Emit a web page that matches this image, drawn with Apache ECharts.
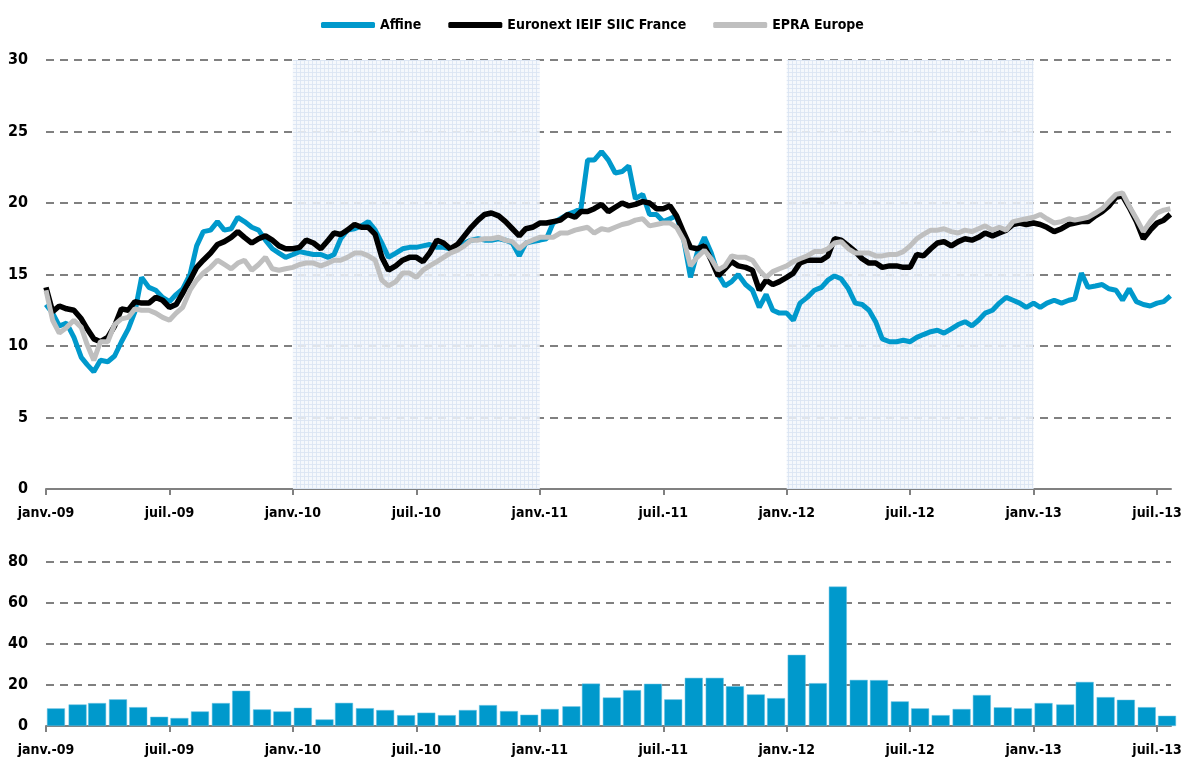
<!DOCTYPE html>
<html>
<head>
<meta charset="utf-8">
<script src="https://cdn.jsdelivr.net/npm/echarts@6/dist/echarts.min.js"></script>
<style>
html,body{margin:0;padding:0;background:#fff;}
#chart{width:1182px;height:762px;}
</style>
</head>
<body>
<div id="chart"></div>
<script>
// ---------- DATA ----------
const seriesNames = ['Affine', 'Euronext IEIF SIIC France', 'EPRA Europe'];
const tickLabels = ['janv.-09','juil.-09','janv.-10','juil.-10','janv.-11','juil.-11','janv.-12','juil.-12','janv.-13','juil.-13'];
// sample days within each month (1st, 11th, 21st), Jan 2009 .. Jul 2013
const sampleDays = [1, 11, 21];
const startYear = 2009, monthCount = 55;

const affine = [
 12.9,12.3,11.4, 11.6,10.6,9.2, 8.7,8.2,9.0, 8.9,9.3,10.3, 11.2,12.4,14.8, 14.1,13.9,13.4,
 13.1,13.6,14.0, 15.0,17.0,18.0, 18.1,18.7,18.1, 18.2,19.0,18.7, 18.3,18.1,17.4, 16.8,16.5,16.2,
 16.4,16.6,16.5, 16.4,16.4,16.2, 16.4,17.5,18.1, 18.2,18.4,18.7, 18.1,17.2,16.2, 16.5,16.8,16.9,
 16.9,17.0,17.1, 16.9,16.9,16.8, 16.9,17.2,17.4, 17.5,17.4,17.4, 17.5,17.4,17.2, 16.3,17.2,17.3,
 17.4,17.5,18.6, 18.9,19.2,19.4, 19.6,23.0,23.0, 23.6,23.0,22.1, 22.2,22.6,20.3, 20.6,19.2,19.2,
 18.7,18.9,19.1, 17.4,14.8,16.5, 17.6,16.5,15.0, 14.2,14.5,15.0, 14.3,13.9,12.7, 13.6,12.5,12.3,
 12.3,11.8,13.0, 13.4,13.9,14.1, 14.6,14.9,14.7, 14.0,13.0,12.9, 12.5,11.7,10.5, 10.3,10.3,10.4,
 10.3,10.6,10.8, 11.0,11.1,10.9, 11.2,11.5,11.7, 11.4,11.8,12.3, 12.5,13.0,13.4, 13.2,13.0,12.7,
 13.0,12.7,13.0, 13.2,13.0,13.2, 13.3,15.1,14.1, 14.2,14.3,14.0, 13.9,13.2,14.0, 13.1,12.9,12.8,
 13.0,13.1,13.5
];
const euronext = [
 14.1,12.4,12.8, 12.6,12.5,11.9, 11.2,10.5,10.3, 10.6,11.4,12.6, 12.5,13.1,13.0, 13.0,13.4,13.2,
 12.7,12.9,13.7, 14.6,15.5,16.0, 16.5,17.1,17.3, 17.6,18.0,17.6, 17.2,17.5,17.7, 17.4,17.0,16.8,
 16.8,16.9,17.4, 17.2,16.8,17.4, 17.9,17.8,18.1, 18.5,18.3,18.3, 17.8,16.2,15.3, 15.6,16.0,16.2,
 16.2,15.9,16.5, 17.4,17.2,16.8, 17.1,17.7,18.3, 18.8,19.2,19.3, 19.1,18.7,18.2, 17.7,18.2,18.3,
 18.6,18.6,18.7, 18.8,19.2,19.0, 19.4,19.4,19.6, 19.9,19.4,19.7, 20.0,19.8,19.9, 20.1,20.0,19.6,
 19.6,19.8,19.1, 17.9,16.9,16.8, 17.0,16.0,14.9, 15.4,15.9,15.6, 15.5,15.3,13.9, 14.6,14.3,14.5,
 14.8,15.1,15.8, 16.0,16.0,16.0, 16.3,17.5,17.4, 17.0,16.6,16.1, 15.8,15.8,15.5, 15.6,15.6,15.5,
 15.5,16.4,16.3, 16.8,17.2,17.3, 17.0,17.3,17.5, 17.4,17.6,17.9, 17.7,17.9,18.1, 18.5,18.6,18.5,
 18.6,18.5,18.3, 18.0,18.2,18.5, 18.6,18.7,18.7, 19.1,19.4,19.8, 20.4,20.5,19.7, 18.7,17.5,18.1,
 18.6,18.8,19.2
];
const epra = [
 13.9,11.8,10.9, 11.3,11.8,11.3, 10.1,9.0,10.3, 10.3,11.5,11.9, 12.0,12.6,12.5, 12.5,12.3,12.0,
 11.8,12.3,12.7, 13.9,14.6,15.1, 15.5,16.0,15.7, 15.4,15.8,16.0, 15.3,15.7,16.2, 15.4,15.3,15.4,
 15.5,15.7,15.8, 15.8,15.6,15.8, 16.0,16.0,16.2, 16.5,16.5,16.3, 16.0,14.6,14.2, 14.5,15.1,15.1,
 14.8,15.3,15.6, 15.9,16.2,16.5, 16.7,17.0,17.4, 17.4,17.5,17.5, 17.6,17.4,17.3, 16.8,17.2,17.4,
 17.6,17.6,17.6, 17.9,17.9,18.1, 18.2,18.3,17.9, 18.2,18.1,18.3, 18.5,18.6,18.8, 18.9,18.4,18.5,
 18.6,18.6,18.3, 17.4,15.6,16.2, 16.7,16.1,15.3, 15.6,16.3,16.2, 16.2,16.0,15.3, 14.8,15.2,15.4,
 15.6,15.9,16.1, 16.3,16.6,16.6, 16.8,17.2,17.3, 16.8,16.5,16.5, 16.5,16.3,16.3, 16.4,16.4,16.6,
 17.0,17.5,17.8, 18.1,18.1,18.2, 18.0,17.9,18.1, 18.0,18.2,18.4, 18.1,18.3,18.1, 18.7,18.8,18.9,
 19.0,19.2,18.9, 18.6,18.7,18.9, 18.8,18.9,19.0, 19.3,19.6,20.1, 20.6,20.7,19.8, 18.9,18.0,18.7,
 19.3,19.5,19.6
];
// monthly volumes, Jan 2009 .. Jul 2013
const volumes = [
 8.6,10.5,11.2,13.0,9.2,4.5,3.9,7.1,11.2,17.2,8.1,7.1,
 8.9,3.2,11.3,8.7,7.8,5.3,6.5,5.3,7.8,10.2,7.3,5.5,
 8.3,9.6,20.7,13.9,17.5,20.6,13.0,23.5,23.5,19.4,15.4,13.6,
 34.7,20.9,68.0,22.5,22.4,12.0,8.6,5.3,8.3,15.1,9.1,8.6,
 11.2,10.5,21.5,14.1,12.8,9.2,5.0
];
// shaded periods (year starts)
const shadedPeriods = [['2010-01-01','2011-01-01'], ['2012-01-01','2013-01-01']];
const axisEnd = '2013-07-22';

// ---------- HELPERS ----------
function daysIn(y, m) { return new Date(y, m + 1, 0).getDate(); }
function toMonths(s) {
  const [y, m, d] = s.split('-').map(Number);
  return (y - startYear) * 12 + (m - 1) + (d - 1) / daysIn(y, m - 1);
}
const sampleDates = [];
for (let i = 0; i < monthCount; i++) {
  const y = startYear + Math.floor(i / 12), m = i % 12 + 1;
  sampleDays.forEach(d => sampleDates.push(y + '-' + String(m).padStart(2,'0') + '-' + String(d).padStart(2,'0')));
}
const barMonths = volumes.map((v, i) => {
  const y = startYear + Math.floor(i / 12), m = i % 12 + 1;
  return y + '-' + String(m).padStart(2,'0') + '-16';
});
const pair = arr => sampleDates.map((d, i) => [toMonths(d), arr[i]]);

const FONT = "'Liberation Sans Narrow','Arial Narrow','DejaVu Sans Condensed',sans-serif";
const tickVals = tickLabels.map((_, i) => i * 6);
const xMax = toMonths(axisEnd);

function makePattern() {
  const c = document.createElement('canvas');
  c.width = 4; c.height = 4;
  const g = c.getContext('2d');
  g.fillStyle = 'rgba(243,247,252,0.85)';
  g.fillRect(0, 0, 4, 4);
  g.fillStyle = 'rgba(218,229,243,0.85)';
  g.fillRect(0, 0, 4, 1);
  g.fillRect(0, 0, 1, 4);
  return c;
}

const gridDash = { color: '#808080', width: 2, type: [8, 6] };
function xAxisDef(gi) {
  return {
    type: 'value', gridIndex: gi, min: 0, max: xMax,
    axisLine: { show: true, onZero: false, lineStyle: { color: '#808080', width: 2 } },
    axisTick: { show: true, length: 6, lineStyle: { color: '#808080', width: 2 }, customValues: tickVals },
    axisLabel: {
      customValues: tickVals, margin: 17, color: '#000', fontWeight: 'bold', fontSize: 14, fontFamily: FONT,
      formatter: v => tickLabels[Math.round(v / 6)] || ''
    },
    splitLine: { show: false }
  };
}
function yAxisDef(gi, max, interval) {
  return {
    type: 'value', gridIndex: gi, min: 0, max: max, interval: interval,
    axisLine: { show: false }, axisTick: { show: false },
    axisLabel: { margin: 18, color: '#000', fontWeight: 'bold', fontSize: 16, fontFamily: FONT },
    splitLine: { show: true, lineStyle: gridDash }
  };
}

const chart = echarts.init(document.getElementById('chart'), null, { renderer: 'canvas' });
chart.setOption({
  animation: false,
  backgroundColor: '#fff',
  legend: {
    data: seriesNames, left: 316, top: 13, itemGap: 27, itemWidth: 54, itemHeight: 6,
    icon: 'roundRect',
    textStyle: { color: '#000', fontWeight: 'bold', fontSize: 14, fontFamily: FONT }
  },
  grid: [
    { left: 46, right: 11, top: 60, height: 429, outerBoundsMode: 'none', containLabel: false },
    { left: 46, right: 11, top: 562, height: 164, outerBoundsMode: 'none', containLabel: false }
  ],
  xAxis: [xAxisDef(0), xAxisDef(1)],
  yAxis: [yAxisDef(0, 30, 5), yAxisDef(1, 80, 20)],
  series: [
    {
      name: 'shade', type: 'line', xAxisIndex: 0, yAxisIndex: 0, data: [], z: 1, silent: true,
      markArea: {
        silent: true,
        itemStyle: { color: { image: makePattern(), repeat: 'repeat' } },
        data: shadedPeriods.map(p => [{ xAxis: toMonths(p[0]) }, { xAxis: toMonths(p[1]) }])
      }
    },
    {
      name: seriesNames[0], type: 'line', xAxisIndex: 0, yAxisIndex: 0, z: 3,
      data: pair(affine), showSymbol: false, symbol: 'none',
      itemStyle: { color: '#0099CC' }, lineStyle: { color: '#0099CC', width: 5 }
    },
    {
      name: seriesNames[1], type: 'line', xAxisIndex: 0, yAxisIndex: 0, z: 4,
      data: pair(euronext), showSymbol: false, symbol: 'none',
      itemStyle: { color: '#000' }, lineStyle: { color: '#000', width: 5.5 }
    },
    {
      name: seriesNames[2], type: 'line', xAxisIndex: 0, yAxisIndex: 0, z: 5,
      data: pair(epra), showSymbol: false, symbol: 'none',
      itemStyle: { color: '#BFBFBF' }, lineStyle: { color: '#BFBFBF', width: 5 }
    },
    {
      name: 'Volumes', type: 'bar', xAxisIndex: 1, yAxisIndex: 1,
      data: barMonths.map((d, i) => [toMonths(d), volumes[i]]),
      barWidth: 18, clip: true,
      itemStyle: { color: '#0099CC', borderColor: '#6cc3e3', borderWidth: 0.5 }
    }
  ]
});
</script>
</body>
</html>
